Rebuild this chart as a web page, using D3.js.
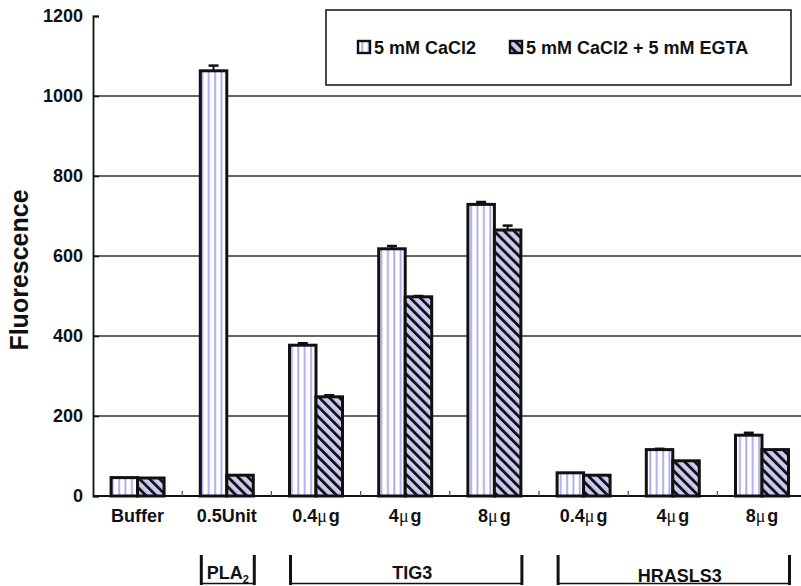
<!DOCTYPE html>
<html lang="en">
<head>
    <meta charset="UTF-8">
    <title>Fluorescence</title>
    <script src="https://d3js.org/d3.v7.min.js"></script>
    <style>
        body {
            margin: 0;
            padding: 0;
            background-color: white;
        }
        svg text {
            font-family: "Liberation Sans", Arial, sans-serif;
            font-weight: bold;
            fill: #111;
        }
    </style>
</head>
<body>
    <div id="chart"></div>

    <script>
        // values
        const categories = ["Buffer", "0.5Unit", "0.4|g", "4|g", "8|g", "0.4|g", "4|g", "8|g"];
        const cacl2 = [46, 1063, 377, 618, 729, 58, 116, 152];
        const cacl2Err = [0, 13, 5, 7, 6, 0, 2, 6];
        const egta = [45, 52, 248, 498, 665, 52, 88, 116];
        const egtaErr = [0, 0, 4, 2, 11, 0, 0, 0];
        const seriesNames = ["5 mM CaCl2", "5 mM CaCl2 + 5 mM EGTA"];
        const yTicks = [0, 200, 400, 600, 800, 1000, 1200];
        const groupLabels = ["PLA", "TIG3", "HRASLS3"];
        const groupFrom = [1, 2, 5];
        const groupTo = [1, 4, 7];

        const width = 801;
        const height = 586;

        const svg = d3.select('#chart')
            .append('svg')
            .attr('width', width)
            .attr('height', height);

        const defs = svg.append('defs');

        // vertical lavender stripes on white
        const vs = defs.append('pattern')
            .attr('id', 'vstripe')
            .attr('patternUnits', 'userSpaceOnUse')
            .attr('width', 6.4)
            .attr('height', 10);
        vs.append('rect').attr('width', 6.4).attr('height', 10).attr('fill', '#fffffb');
        vs.append('rect').attr('x', 3).attr('width', 1.8).attr('height', 10).attr('fill', '#a6a6f4');

        // black diagonal hatch on lavender
        const hs = defs.append('pattern')
            .attr('id', 'hatch')
            .attr('patternUnits', 'userSpaceOnUse')
            .attr('width', 7.1)
            .attr('height', 10)
            .attr('patternTransform', 'rotate(-45)');
        hs.append('rect').attr('width', 7.1).attr('height', 10).attr('fill', '#cacaf3');
        hs.append('rect').attr('x', 0).attr('width', 2.8).attr('height', 10).attr('fill', '#111');

        const y = d3.scaleLinear()
            .domain([0, 1200])
            .range([496, 16]);

        const x0 = d3.scaleBand()
            .domain(d3.range(categories.length))
            .range([93, 93 + 8 * 89.2])
            .paddingInner(0.406)
            .paddingOuter(0.203);

        const x1 = d3.scaleBand()
            .domain([0, 1])
            .range([0, x0.bandwidth()]);

        const step = x0.step();
        const left0 = 93;

        // gridlines
        svg.append('g')
            .selectAll('line')
            .data(yTicks.filter(d => d > 0 && d < 1200))
            .enter()
            .append('line')
            .attr('x1', left0)
            .attr('x2', width)
            .attr('y1', d => y(d))
            .attr('y2', d => y(d))
            .attr('stroke', '#333')
            .attr('stroke-width', 1.4);

        // y axis
        const yAxis = svg.append('g')
            .attr('transform', `translate(${left0},0)`)
            .call(d3.axisRight(y).tickValues(yTicks).tickSize(6).tickFormat(''));
        yAxis.select('.domain').attr('stroke', '#111').attr('stroke-width', 1.8);
        yAxis.selectAll('.tick line').attr('stroke', '#111').attr('stroke-width', 1.6);

        svg.append('g')
            .selectAll('text')
            .data(yTicks)
            .enter()
            .append('text')
            .attr('x', 83)
            .attr('y', d => y(d))
            .attr('dy', '0.35em')
            .attr('text-anchor', 'end')
            .style('font-size', '18px')
            .text(d => d);

        svg.append('text')
            .attr('transform', 'translate(28,270) rotate(-90)')
            .attr('text-anchor', 'middle')
            .style('font-size', '25px')
            .text('Fluorescence');

        // x axis line + small inward ticks at category borders
        svg.append('line')
            .attr('x1', left0)
            .attr('x2', width)
            .attr('y1', y(0))
            .attr('y2', y(0))
            .attr('stroke', '#111')
            .attr('stroke-width', 1.8);

        svg.append('g')
            .selectAll('line')
            .data(d3.range(1, categories.length))
            .enter()
            .append('line')
            .attr('x1', d => left0 + d * step)
            .attr('x2', d => left0 + d * step)
            .attr('y1', y(0))
            .attr('y2', y(0) - 5)
            .attr('stroke', '#555')
            .attr('stroke-width', 1.3);

        // bars
        const series = [
            { vals: cacl2, err: cacl2Err, fill: 'url(#vstripe)' },
            { vals: egta, err: egtaErr, fill: 'url(#hatch)' }
        ];

        series.forEach((s, si) => {
            const g = svg.append('g');
            g.selectAll('rect')
                .data(s.vals)
                .enter()
                .append('rect')
                .attr('x', (d, i) => x0(i) + x1(si))
                .attr('y', d => y(d))
                .attr('width', x1.bandwidth())
                .attr('height', d => y(0) - y(d))
                .attr('fill', s.fill)
                .attr('stroke', '#111')
                .attr('stroke-width', 3);

            // error bars (upper only)
            const eb = g.selectAll('g.err')
                .data(s.vals.map((v, i) => ({ v: v, e: s.err[i], i: i })).filter(d => d.e > 0))
                .enter()
                .append('g');
            eb.append('line')
                .attr('x1', d => x0(d.i) + x1(si) + x1.bandwidth() / 2)
                .attr('x2', d => x0(d.i) + x1(si) + x1.bandwidth() / 2)
                .attr('y1', d => y(d.v))
                .attr('y2', d => y(d.v + d.e))
                .attr('stroke', '#111')
                .attr('stroke-width', 2);
            eb.append('line')
                .attr('x1', d => x0(d.i) + x1(si) + x1.bandwidth() / 2 - 5)
                .attr('x2', d => x0(d.i) + x1(si) + x1.bandwidth() / 2 + 5)
                .attr('y1', d => y(d.v + d.e))
                .attr('y2', d => y(d.v + d.e))
                .attr('stroke', '#111')
                .attr('stroke-width', 2.5);
        });

        // category labels, "|" stands for the micro sign
        const catText = svg.append('g')
            .selectAll('text')
            .data(categories)
            .enter()
            .append('text')
            .attr('x', (d, i) => x0(i) + x0.bandwidth() / 2)
            .attr('y', 522)
            .attr('text-anchor', 'middle')
            .style('font-size', '18px');
        catText.each(function(d) {
            const t = d3.select(this);
            const parts = d.split('|');
            t.append('tspan').text(parts[0]);
            if (parts.length > 1) {
                t.append('tspan')
                    .style('font-family', '"Liberation Serif", "Times New Roman", serif')
                    .style('font-weight', 'normal')
                    .text('\u03bc');
                t.append('tspan').attr('dx', 2).text(parts[1]);
            }
        });

        // group brackets under the axis
        groupLabels.forEach((lab, gi) => {
            const xl = x0(groupFrom[gi]) + 1;
            const xr = x0(groupTo[gi]) + x0.bandwidth() + 1;
            const g = svg.append('g');
            g.append('line')
                .attr('x1', xl).attr('x2', xr)
                .attr('y1', 583.5).attr('y2', 583.5)
                .attr('stroke', '#111').attr('stroke-width', 1.5);
            [xl, xr].forEach(xx => {
                g.append('line')
                    .attr('x1', xx).attr('x2', xx)
                    .attr('y1', 555).attr('y2', 585)
                    .attr('stroke', '#111').attr('stroke-width', 3);
            });
            const t = g.append('text')
                .attr('x', (xl + xr) / 2 + (gi === 0 ? 0 : 6))
                .attr('y', gi === 2 ? 582 : 579)
                .attr('text-anchor', 'middle')
                .style('font-size', '18px');
            t.append('tspan').text(lab);
            if (lab === 'PLA') {
                t.append('tspan').attr('dy', 4).style('font-size', '11px').text('2');
            }
        });

        // legend
        const leg = svg.append('g');
        leg.append('rect')
            .attr('x', 326)
            .attr('y', 10)
            .attr('width', 465)
            .attr('height', 75)
            .attr('fill', 'white')
            .attr('stroke', '#111')
            .attr('stroke-width', 1.5);

        const legX = [358, 510];
        const legFill = ['url(#vstripe)', 'url(#hatch)'];
        seriesNames.forEach((name, i) => {
            leg.append('rect')
                .attr('x', legX[i])
                .attr('y', 41)
                .attr('width', 12)
                .attr('height', 12)
                .attr('fill', legFill[i])
                .attr('stroke', '#111')
                .attr('stroke-width', 2.4);
            leg.append('text')
                .attr('x', legX[i] + 16)
                .attr('y', 54)
                .style('font-size', '18px')
                .text(name);
        });
    </script>
</body>
</html>
